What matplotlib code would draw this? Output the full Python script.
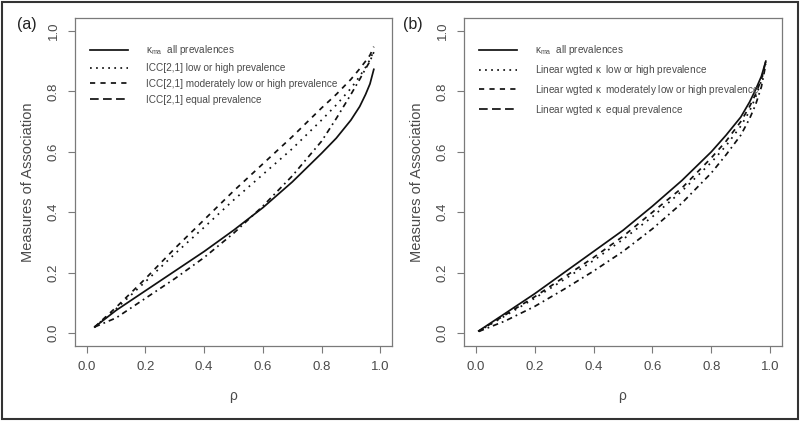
import matplotlib
matplotlib.use("Agg")
import matplotlib.pyplot as plt
from matplotlib.lines import Line2D
from matplotlib.patches import Rectangle

# ---------------- data ----------------
rho_a = [0.027, 0.1, 0.2, 0.3, 0.4, 0.5, 0.6, 0.7, 0.8, 0.85, 0.9, 0.93, 0.95, 0.965, 0.978]
kma_a = [0.020, 0.075, 0.14, 0.205, 0.27, 0.34, 0.415, 0.50, 0.595, 0.645, 0.705, 0.75, 0.79, 0.825, 0.873]
icc_low_high = [0.020, 0.080, 0.17, 0.262, 0.35, 0.44, 0.525, 0.61, 0.705, 0.755, 0.81, 0.85, 0.88, 0.905, 0.935]
icc_moderate = [0.020, 0.085, 0.18, 0.28, 0.375, 0.47, 0.56, 0.65, 0.745, 0.79, 0.84, 0.875, 0.90, 0.92, 0.948]
icc_equal = [0.020, 0.050, 0.115, 0.18, 0.25, 0.33, 0.42, 0.52, 0.635, 0.71, 0.79, 0.84, 0.875, 0.90, 0.93]

rho_b = [0.01, 0.1, 0.2, 0.3, 0.4, 0.5, 0.6, 0.7, 0.8, 0.85, 0.9, 0.93, 0.95, 0.97, 0.985]
kma_b = [0.007, 0.065, 0.13, 0.20, 0.27, 0.34, 0.42, 0.505, 0.60, 0.655, 0.715, 0.765, 0.805, 0.85, 0.90]
lw_low_high = [0.006, 0.057, 0.115, 0.177, 0.24, 0.31, 0.385, 0.47, 0.565, 0.62, 0.685, 0.735, 0.78, 0.835, 0.90]
lw_moderate = [0.006, 0.060, 0.12, 0.185, 0.25, 0.32, 0.40, 0.48, 0.58, 0.635, 0.70, 0.75, 0.79, 0.84, 0.90]
lw_equal = [0.005, 0.040, 0.088, 0.145, 0.205, 0.27, 0.345, 0.43, 0.53, 0.59, 0.655, 0.71, 0.755, 0.815, 0.89]

ticks = [0.0, 0.2, 0.4, 0.6, 0.8, 1.0]
tick_labels = ["0.0", "0.2", "0.4", "0.6", "0.8", "1.0"]

labels_a = [r"$\kappa_{ma}$  all prevalences",
            "ICC[2,1] low or high prevalence",
            "ICC[2,1] moderately low or high prevalence",
            "ICC[2,1] equal prevalence"]
labels_b = [r"$\kappa_{ma}$  all prevalences",
            r"Linear wgted $\kappa$  low or high prevalence",
            r"Linear wgted $\kappa$  moderately low or high prevalence",
            r"Linear wgted $\kappa$  equal prevalence"]

# ---------------- style ----------------
plt.rcParams['font.family'] = ['Liberation Sans', 'DejaVu Sans']
plt.rcParams['mathtext.fontset'] = 'custom'
plt.rcParams['mathtext.rm'] = 'Liberation Sans'
plt.rcParams['mathtext.it'] = 'Liberation Sans'
TXT = '#4a4a4a'
FRAME = '#7a7a7a'
LW = 1.25
styles = [dict(ls='-'),
          dict(ls=(0, (1, 3))),
          dict(ls=(0, (3, 3))),
          dict(ls=(0, (3.2, 2.3, 1, 2.3)))]
legend_styles = [dict(ls='-'), dict(ls=(0, (1, 2.5))), dict(ls=(0, (3, 3))), dict(ls=(0, (5, 2.5)))]

fig = plt.figure(figsize=(8, 4.21), dpi=100)
fig.patches.append(Rectangle((0.003, 0.004), 0.994, 0.992, transform=fig.transFigure,
                             fill=False, ec='#333333', lw=1.5))

axA = fig.add_axes([75/800, (421-346)/421, 317/800, 328/421])
axB = fig.add_axes([464/800, (421-346)/421, 318/800, 328/421])


def setup(ax, x, series, labels, tag, tagx):
    for y, st in zip(series, styles):
        ax.plot(x, y, color='#111111', lw=LW, **st)
    ax.set_xlim(-0.04, 1.04)
    ax.set_ylim(-0.043, 1.043)
    ax.set_xticks(ticks)
    ax.set_xticklabels(tick_labels)
    ax.set_yticks(ticks)
    ax.set_yticklabels(tick_labels, rotation=90, va='center')
    ax.tick_params(direction='out', length=5, width=0.8, color=FRAME,
                   labelcolor=TXT, labelsize=9.5, pad=6)
    for s in ax.spines.values():
        s.set_color(FRAME)
        s.set_linewidth(0.9)
    ax.set_xlabel(r"$\rho$", color=TXT, fontsize=10, labelpad=12)
    ax.set_ylabel("Measures of Association", color=TXT, fontsize=10.5, labelpad=9)
    handles = [Line2D([], [], color='#111111', lw=LW, **st) for st in legend_styles]
    ax.legend(handles, labels, loc='upper left', bbox_to_anchor=(0.035, 0.935),
              frameon=False, fontsize=7.2, handlelength=3.8, handletextpad=1.8,
              labelspacing=0.58, labelcolor=TXT, borderaxespad=0)
    fig.text(tagx, 1 - 25/421, tag, fontsize=11.5, color='#222222', va='center', ha='left')


setup(axA, rho_a, [kma_a, icc_low_high, icc_moderate, icc_equal], labels_a, "(a)", 17/800)
setup(axB, rho_b, [kma_b, lw_low_high, lw_moderate, lw_equal], labels_b, "(b)", 403/800)

fig.savefig("out.png", dpi=100)
